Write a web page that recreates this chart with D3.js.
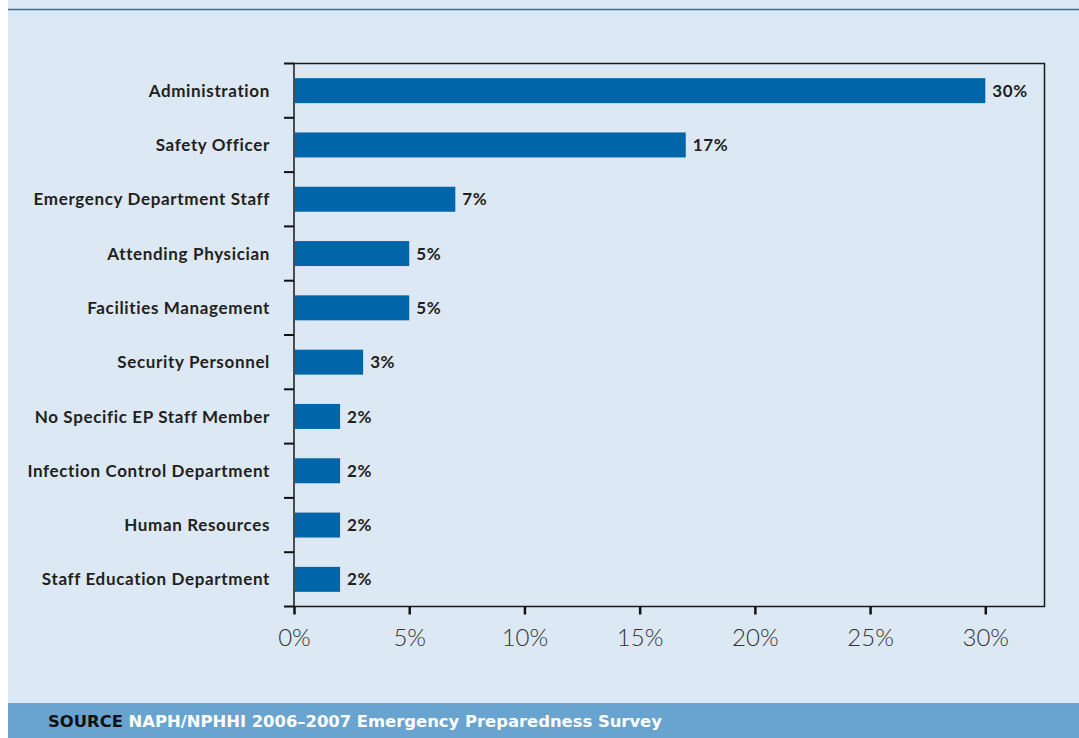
<!DOCTYPE html>
<html>
<head>
<meta charset="utf-8">
<script src="https://cdn.jsdelivr.net/npm/d3@7"></script>
<style>
  html, body { margin: 0; padding: 0; background: #ffffff; }
  svg { display: block; }
</style>
</head>
<body>
<script>
// Who leads emergency preparedness planning (share of respondents)
const categories = [
  "Administration",
  "Safety Officer",
  "Emergency Department Staff",
  "Attending Physician",
  "Facilities Management",
  "Security Personnel",
  "No Specific EP Staff Member",
  "Infection Control Department",
  "Human Resources",
  "Staff Education Department"
];
const values = [30, 17, 7, 5, 5, 3, 2, 2, 2, 2];
const xTicks = [0, 5, 10, 15, 20, 25, 30];
const sourceLead = "SOURCE";
const sourceText = "NAPH/NPHHI 2006\u20132007 Emergency Preparedness Survey";

const W = 1079, H = 738;
const svg = d3.select("body").append("svg").attr("width", W).attr("height", H);

// panel background
svg.append("rect").attr("x", 8).attr("y", 0).attr("width", W - 8).attr("height", H)
  .attr("fill", "#dce8f3");
svg.append("line").attr("x1", 8).attr("x2", W).attr("y1", 9.5).attr("y2", 9.5)
  .attr("stroke", "#2a70ad").attr("stroke-width", 1.5);

const plot = { left: 294, top: 63.5, right: 1044.5, bottom: 606.5 };

const x = d3.scaleLinear().domain([0, 30]).range([plot.left, 985.3]);
const y = d3.scaleBand().domain(categories).range([plot.top, plot.bottom]).paddingInner(0.54).paddingOuter(0.27);

// frame
svg.append("rect")
  .attr("x", plot.left).attr("y", plot.top)
  .attr("width", plot.right - plot.left).attr("height", plot.bottom - plot.top)
  .attr("fill", "none").attr("stroke", "#1a1a1a").attr("stroke-width", 1.5);

// bars
svg.append("g").selectAll("rect").data(values).join("rect")
  .attr("x", x(0) + 1)
  .attr("y", (d, i) => y(categories[i]))
  .attr("width", d => x(d) - x(0) - 1)
  .attr("height", y.bandwidth())
  .attr("fill", "#0066aa");

// value labels
svg.append("g").selectAll("text").data(values).join("text")
  .attr("x", d => x(d) + 7)
  .attr("y", (d, i) => y(categories[i]) + y.bandwidth() / 2)
  .attr("dy", "0.36em")
  .attr("font-family", "Lato, 'DejaVu Sans', sans-serif")
  .attr("font-weight", 700)
  .attr("font-size", 17)
  .attr("letter-spacing", 0.6)
  .attr("fill", "#231f20")
  .text(d => d + "%");

// category axis: ticks at band boundaries
const boundaries = d3.range(categories.length + 1).map(i => plot.top + i * (plot.bottom - plot.top) / categories.length);
svg.append("g").selectAll("line").data(boundaries).join("line")
  .attr("x1", plot.left - 10).attr("x2", plot.left)
  .attr("y1", d => d).attr("y2", d => d)
  .attr("stroke", "#111").attr("stroke-width", 2);

svg.append("g").selectAll("text").data(categories).join("text")
  .attr("x", 270)
  .attr("y", d => y(d) + y.bandwidth() / 2)
  .attr("dy", "0.36em")
  .attr("text-anchor", "end")
  .attr("font-family", "Lato, 'DejaVu Sans', sans-serif")
  .attr("font-weight", 700)
  .attr("font-size", 17)
  .attr("letter-spacing", 0.65)
  .attr("fill", "#231f20")
  .text(d => d);

// value axis
const xAxis = d3.axisBottom(x).tickValues(xTicks).tickSize(8).tickPadding(14).tickFormat(d => d + "%");
const gx = svg.append("g").attr("transform", `translate(0,${plot.bottom})`).call(xAxis);
gx.select(".domain").remove();
gx.selectAll(".tick line").attr("stroke", "#111").attr("stroke-width", 2.5);
gx.selectAll(".tick text")
  .attr("font-family", "Lato, 'DejaVu Sans', sans-serif")
  .attr("font-weight", 300)
  .attr("font-size", 24)
  .attr("fill", "#333");

// source band
svg.append("rect").attr("x", 8).attr("y", 703).attr("width", W - 8).attr("height", H - 703)
  .attr("fill", "#68a4cf");
const src = svg.append("text").attr("x", 48).attr("y", 726.5)
  .attr("font-family", "'DejaVu Sans', sans-serif")
  .attr("font-weight", 700).attr("font-size", 16.4);
src.append("tspan").attr("fill", "#111").text(sourceLead);
src.append("tspan").attr("fill", "#ffffff").text(" " + sourceText);
</script>
</body>
</html>
